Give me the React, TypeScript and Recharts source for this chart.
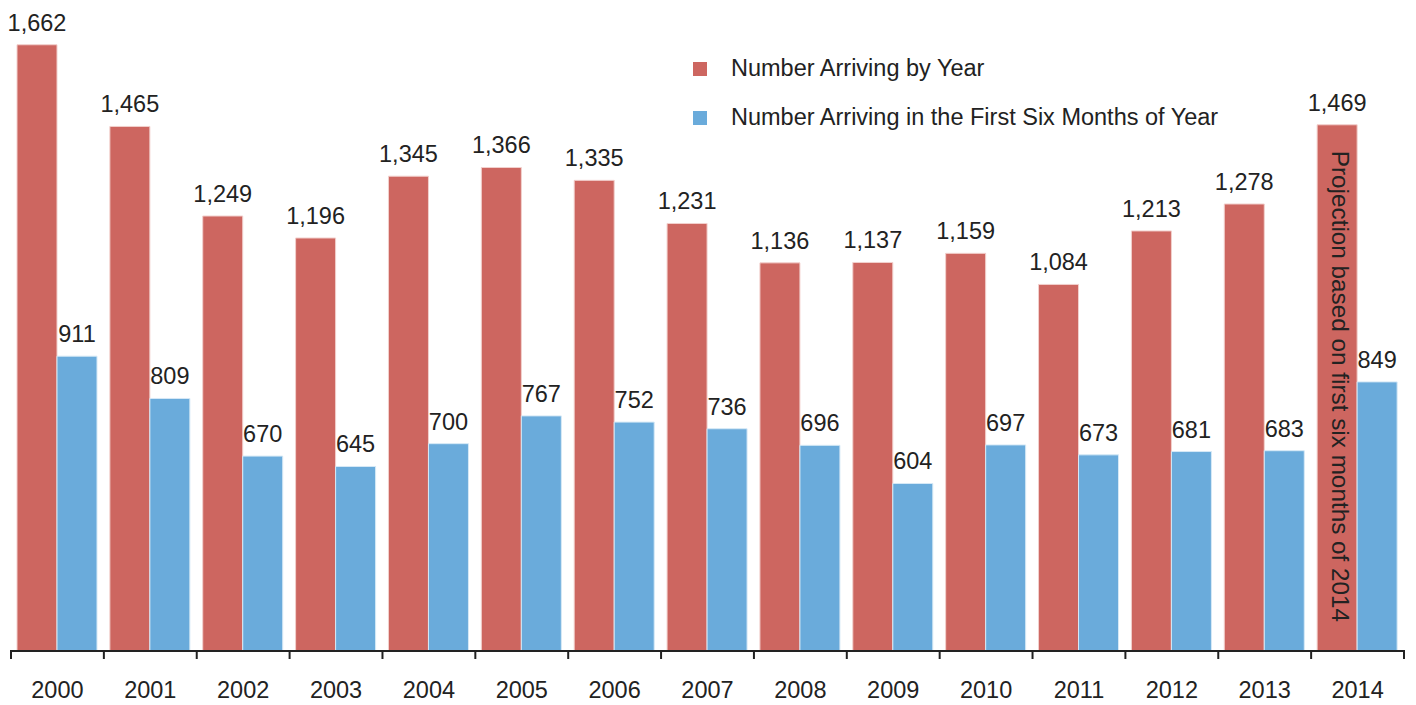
import React from "react";
import { BarChart, Bar, XAxis, YAxis, LabelList } from "recharts";

const years = ["2000", "2001", "2002", "2003", "2004", "2005", "2006", "2007", "2008", "2009", "2010", "2011", "2012", "2013", "2014"];
const arrivingByYear = [1662, 1465, 1249, 1196, 1345, 1366, 1335, 1231, 1136, 1137, 1159, 1084, 1213, 1278, 1469];
const arrivingFirstSix = [911, 809, 670, 645, 700, 767, 752, 736, 696, 604, 697, 673, 681, 683, 849];
const projectionNote = "Projection based on first six months of 2014";

const RED = "#cd6660";
const BLUE = "#6aabdb";
const INK = "#222";
const FONT = "'Liberation Sans', Arial, Helvetica, sans-serif";
const FS = 23.5;

const series = [
  { key: "total", name: "Number Arriving by Year", color: RED },
  { key: "firstSix", name: "Number Arriving in the First Six Months of Year", color: BLUE },
];

const data = years.map((year, i) => ({
  year,
  total: arrivingByYear[i],
  firstSix: arrivingFirstSix[i],
}));

const W = 1416;
const H = 705;
const LEFT = 11;
const RIGHT = 12;
const BAND = (W - LEFT - RIGHT) / years.length;

const fmt = (v: number) => v.toLocaleString("en-US");

const YearTick = (props: any) => {
  const { x, y, payload, index } = props;
  const left = x - BAND / 2;
  return (
    <g>
      <line x1={left} x2={left} y1={y - 1} y2={y + 8} stroke={INK} strokeWidth={2} />
      {index === years.length - 1 && (
        <line x1={x + BAND / 2} x2={x + BAND / 2} y1={y - 1} y2={y + 8} stroke={INK} strokeWidth={2} />
      )}
      <text x={x} y={y + 47} textAnchor="middle" fontSize={FS} fill={INK} fontFamily={FONT}>
        {payload.value}
      </text>
    </g>
  );
};

const ValueLabel = (props: any) => {
  const { x, y, width, value, index, note } = props;
  const cx = x + width / 2;
  return (
    <g>
      <text x={cx} y={y - 14} textAnchor="middle" fontSize={FS} fill={INK} fontFamily={FONT}>
        {fmt(value)}
      </text>
      {note && index === years.length - 1 && (
        <text
          x={cx + 3}
          y={y + 26}
          transform={`rotate(90 ${cx + 3} ${y + 26})`}
          dominantBaseline="central"
          fontSize={24.3}
          fill={INK}
          fontFamily={FONT}
        >
          {projectionNote}
        </text>
      )}
    </g>
  );
};

export default function App() {
  return (
    <div style={{ position: "absolute", left: 0, top: 0, width: W, height: H, background: "#fff" }}>
      <BarChart width={W} height={H} data={data} margin={{ top: 29, right: RIGHT, bottom: 0, left: LEFT }} barGap={0} barSize={40}>
        <XAxis
          dataKey="year"
          height={54}
          tickLine={false}
          tickSize={0}
          tickMargin={0}
          axisLine={{ stroke: INK, strokeWidth: 2 }}
          tick={<YearTick />}
          interval={0}
        />
        <YAxis hide width={0} domain={[200, 1700]} allowDataOverflow />
        <Bar dataKey="total" name={series[0].name} fill={RED} stroke="#f2d0cd" strokeWidth={1} isAnimationActive={false}>
          <LabelList dataKey="total" content={<ValueLabel note />} />
        </Bar>
        <Bar dataKey="firstSix" name={series[1].name} fill={BLUE} stroke="#d6e9f6" strokeWidth={1} isAnimationActive={false}>
          <LabelList dataKey="firstSix" content={<ValueLabel />} />
        </Bar>
      </BarChart>
      <div style={{ position: "absolute", left: 693, top: 44, fontFamily: FONT, fontSize: FS, color: INK }}>
        {series.map((s) => (
          <div key={s.key} style={{ display: "flex", alignItems: "center", height: 49 }}>
            <span style={{ width: 14, height: 14, background: s.color, display: "inline-block", marginRight: 24 }} />
            <span>{s.name}</span>
          </div>
        ))}
      </div>
    </div>
  );
}
